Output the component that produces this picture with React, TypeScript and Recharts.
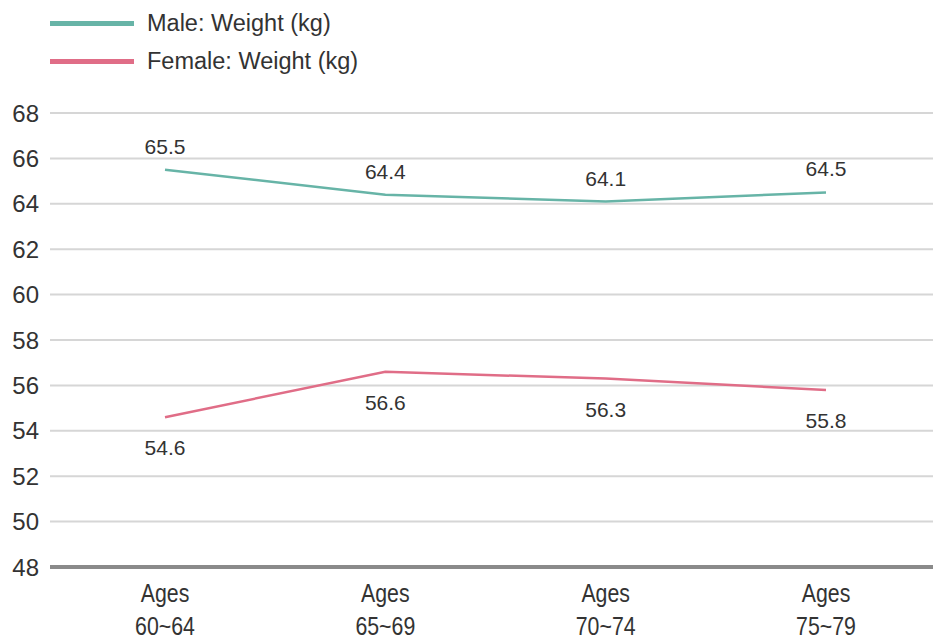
import React from 'react';
import { LineChart, Line, XAxis, YAxis, CartesianGrid, LabelList } from 'recharts';

const categories = ['Ages\n60~64', 'Ages\n65~69', 'Ages\n70~74', 'Ages\n75~79'];
const maleWeight = [65.5, 64.4, 64.1, 64.5];
const femaleWeight = [54.6, 56.6, 56.3, 55.8];
const yTicks = [48, 50, 52, 54, 56, 58, 60, 62, 64, 66, 68];

const MALE_COLOR = '#67b4a7';
const FEMALE_COLOR = '#e06d87';
const FONT = "'Liberation Sans', Arial, Helvetica, sans-serif";

const data = categories.map((c, i) => ({ name: c, male: maleWeight[i], female: femaleWeight[i] }));

const XTick = (props: any) => {
  const { x, y, payload } = props;
  const lines = String(payload.value).split('\n');
  return (
    <g transform={`translate(${x},${y}) scale(0.82,1)`}>
      {lines.map((l, i) => (
        <text key={i} x={0} y={27 + i * 33} textAnchor="middle" fill="#333" fontSize={26}
          fontFamily={FONT}>
          {l}
        </text>
      ))}
    </g>
  );
};

export default function App() {
  return (
    <div style={{ position: 'absolute', left: 0, top: 0, width: 933, height: 639, background: '#fff' }}>
      <div style={{ position: 'absolute', left: 50, top: 8, fontFamily: FONT, fontSize: 23.5, color: '#333', lineHeight: '30px' }}>
        <div style={{ display: 'flex', alignItems: 'center', height: 30 }}>
          <div style={{ width: 84, height: 5, background: MALE_COLOR, marginRight: 13 }} />
          <span>Male: Weight (kg)</span>
        </div>
        <div style={{ display: 'flex', alignItems: 'center', height: 30, marginTop: 8 }}>
          <div style={{ width: 84, height: 5, background: FEMALE_COLOR, marginRight: 13 }} />
          <span>Female: Weight (kg)</span>
        </div>
      </div>
      <LineChart width={933} height={639} data={data} margin={{ top: 113, right: 0, bottom: 0, left: 0 }}>
        <CartesianGrid vertical={false} stroke="#d6d6d6" strokeWidth={2} />
        <XAxis dataKey="name" interval={0} padding={{ left: 115, right: 107 }} height={72}
          axisLine={{ stroke: '#8a8a8a', strokeWidth: 4 }} tickLine={false} tick={<XTick />} />
        <YAxis domain={[48, 68]} ticks={yTicks} width={50} axisLine={false} tickLine={false}
          tickMargin={5} tick={{ fill: '#333', fontSize: 24, fontFamily: FONT }} />
        <Line dataKey="male" stroke={MALE_COLOR} strokeWidth={2.5} dot={false} isAnimationActive={false}>
          <LabelList dataKey="male" position="top" offset={16} fill="#333" fontSize={21} fontFamily={FONT} />
        </Line>
        <Line dataKey="female" stroke={FEMALE_COLOR} strokeWidth={2.5} dot={false} isAnimationActive={false}>
          <LabelList dataKey="female" position="bottom" offset={23} fill="#333" fontSize={21} fontFamily={FONT} />
        </Line>
      </LineChart>
    </div>
  );
}
